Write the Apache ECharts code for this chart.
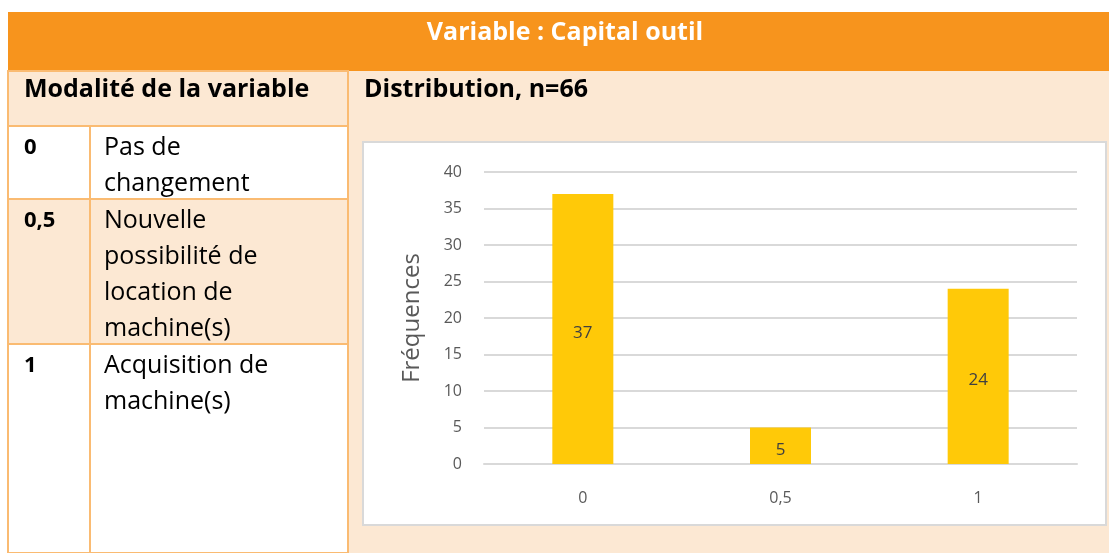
<!DOCTYPE html>
<html>
<head>
<meta charset="utf-8">
<script src="https://cdn.jsdelivr.net/npm/echarts@6/dist/echarts.min.js"></script>
<style>
  html, body { margin: 0; padding: 0; background: #fff; }
  #chart { width: 1109px; height: 553px; }
</style>
</head>
<body>
<div id="chart"></div>
<script>
// chart values
const categories = ["0", "0,5", "1"];
const frequencies = [37, 5, 24];
const yMin = 0, yMax = 40, yStep = 5;

// left side table rows
const modalityCodes = ["0", "0,5", "1"];
const modalityTexts = [
  "Pas de\nchangement",
  "Nouvelle\npossibilité de\nlocation de\nmachine(s)",
  "Acquisition de\nmachine(s)",
];

const FONT = "'Open Sans', Lato, sans-serif";
const ORANGE = "#f7941d";
const BEIGE = "#fce8d3";
const LINE = "#fabb72";

const rowTops = [126, 199, 344, 553];
const rowFills = ["#ffffff", BEIGE, "#ffffff"];

const graphics = [];
// header bar
graphics.push({ type: "rect", shape: { x: 8, y: 12, width: 1101, height: 59 }, style: { fill: ORANGE }, silent: true });
graphics.push({
  type: "text", x: 565, y: 33,
  style: { text: "Variable : Capital outil", fill: "#fff", font: "bold 25px " + FONT, align: "center", verticalAlign: "middle" },
});
// beige background of second row + right column
graphics.push({ type: "rect", shape: { x: 8, y: 71, width: 1101, height: 482 }, style: { fill: BEIGE }, silent: true });

// left rows
rowFills.forEach((fill, i) => {
  graphics.push({
    type: "rect",
    shape: { x: 8, y: rowTops[i], width: 340, height: rowTops[i + 1] - rowTops[i] },
    style: { fill: fill, stroke: LINE, lineWidth: 2 },
    silent: true,
  });
  graphics.push({
    type: "text", x: 24, y: rowTops[i] + 22,
    style: { text: modalityCodes[i], fill: "#000", font: "bold 22px " + FONT, verticalAlign: "middle" },
  });
  graphics.push({
    type: "text", x: 104, y: rowTops[i] + 4,
    style: { text: modalityTexts[i], fill: "#000", font: "25px " + FONT, lineHeight: 36, verticalAlign: "top" },
  });
});
// header cell of left column
graphics.push({
  type: "rect", shape: { x: 8, y: 71, width: 340, height: 55 },
  style: { fill: "none", stroke: LINE, lineWidth: 2 }, silent: true,
});
// inner vertical line
graphics.push({ type: "line", shape: { x1: 90, y1: 126, x2: 90, y2: 553 }, style: { stroke: LINE, lineWidth: 2 }, silent: true });

graphics.push({
  type: "text", x: 24, y: 90,
  style: { text: "Modalité de la variable", fill: "#000", font: "bold 25px " + FONT, verticalAlign: "middle" },
});
graphics.push({
  type: "text", x: 364, y: 90,
  style: { text: "Distribution, n=66", fill: "#000", font: "bold 25px " + FONT, verticalAlign: "middle" },
});
// chart box
graphics.push({
  type: "rect", shape: { x: 363, y: 142, width: 743, height: 383 },
  style: { fill: "#fff", stroke: "#d9d9d9", lineWidth: 2 }, silent: true, z: -1,
});

const myChart = echarts.init(document.getElementById("chart"));
const option = {
  animation: false,
  graphic: { elements: graphics.map((g) => Object.assign({ z: -10 }, g)) },
  grid: { left: 484, right: 32, top: 172, bottom: 89 },
  xAxis: {
    type: "category",
    data: categories,
    axisLine: { lineStyle: { color: "#d9d9d9", width: 2 } },
    axisTick: { show: false },
    axisLabel: { color: "#595959", fontSize: 16, fontFamily: FONT, margin: 26 },
  },
  yAxis: {
    type: "value",
    min: yMin, max: yMax, interval: yStep,
    name: "Fréquences",
    nameLocation: "middle",
    nameGap: 60,
    nameTextStyle: { color: "#595959", fontSize: 24, fontFamily: FONT },
    axisLine: { show: false },
    axisTick: { show: false },
    axisLabel: { color: "#595959", fontSize: 16, fontFamily: FONT, margin: 22 },
    splitLine: { lineStyle: { color: "#d9d9d9", width: 2 } },
  },
  series: [
    {
      type: "bar",
      data: frequencies,
      barWidth: 61,
      itemStyle: { color: "#ffc908" },
      label: { show: true, position: "inside", color: "#404040", fontSize: 17, fontFamily: FONT, offset: [0, 4] },
    },
  ],
};
myChart.setOption(option);
</script>
</body>
</html>
